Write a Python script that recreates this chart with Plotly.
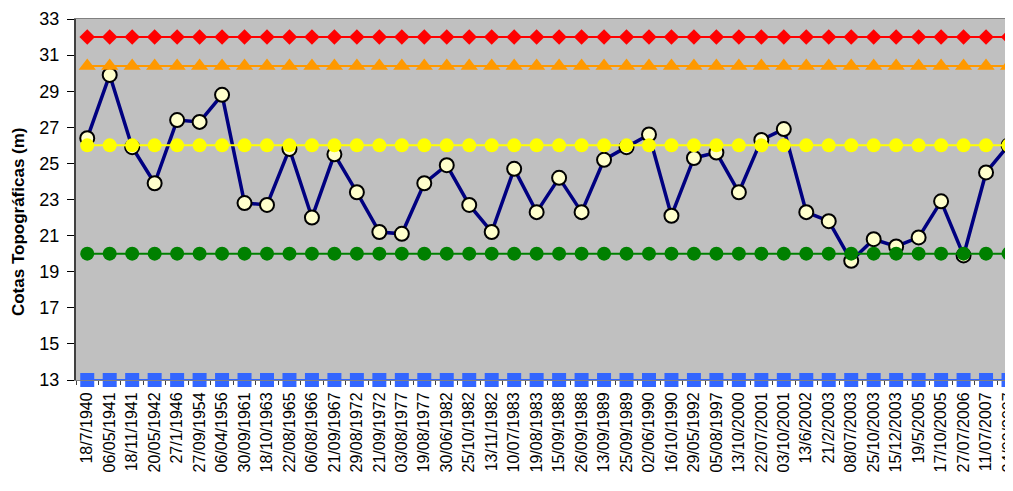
import plotly.graph_objects as go

categories = ["18/7/1940", "06/05/1941", "18/11/1941", "20/05/1942", "27/1/1946", "27/09/1954",
              "06/04/1956", "30/09/1961", "18/10/1963", "22/08/1965", "06/08/1966", "21/09/1967",
              "29/08/1972", "21/09/1972", "03/08/1977", "19/08/1977", "30/06/1982", "25/10/1982",
              "13/11/1982", "10/07/1983", "19/08/1983", "15/09/1988", "26/09/1988", "13/09/1989",
              "25/09/1989", "02/06/1990", "16/10/1990", "29/05/1992", "05/08/1997", "13/10/2000",
              "22/07/2001", "03/10/2001", "13/6/2002", "21/2/2003", "08/07/2003", "25/10/2003",
              "15/12/2003", "19/5/2005", "17/10/2005", "27/07/2006", "11/07/2007", "24/09/2007"]

cotas = [26.4, 29.9, 25.9, 23.9, 27.4, 27.3, 28.8, 22.8, 22.7, 25.8, 22.0, 25.5,
         23.4, 21.2, 21.1, 23.9, 24.9, 22.7, 21.2, 24.7, 22.3, 24.2, 22.3, 25.2,
         25.9, 26.6, 22.1, 25.3, 25.6, 23.4, 26.3, 26.9, 22.3, 21.8, 19.6, 20.8,
         20.4, 20.9, 22.9, 19.9, 24.5, 26.0]

nivel_vermelho = [32.0] * len(categories)
nivel_laranja = [30.4] * len(categories)
nivel_amarelo = [26.0] * len(categories)
nivel_verde = [20.0] * len(categories)
nivel_azul = [13.0] * len(categories)

y_ticks = [13, 15, 17, 19, 21, 23, 25, 27, 29, 31, 33]

fig = go.Figure()

fig.add_trace(go.Scatter(
    x=categories, y=cotas, mode="lines+markers",
    line=dict(color="#000080", width=3.5),
    marker=dict(symbol="circle", size=14, color="#FFFFCC", line=dict(color="black", width=2)),
    cliponaxis=False,
))

refs = [
    (nivel_vermelho, "#FF0000", "diamond", 12),
    (nivel_laranja, "#FF9900", "triangle-up", 15),
    (nivel_amarelo, "#FFFF00", "circle", 14),
    (nivel_verde, "#008000", "circle", 14),
    (nivel_azul, "#3366FF", "square", 14),
]
for vals, col, sym, sz in refs:
    fig.add_trace(go.Scatter(
        x=categories, y=vals, mode="lines+markers",
        line=dict(color=col, width=2),
        marker=dict(symbol=sym, size=sz, color=col, line=dict(width=0)),
        cliponaxis=False,
    ))

fig.update_layout(
    width=1005, height=483,
    margin=dict(l=68, r=0, t=11, b=111),
    paper_bgcolor="white", plot_bgcolor="#C0C0C0",
    showlegend=False,
    font=dict(family="Liberation Sans, Arial, sans-serif", color="black"),
)

fig.update_xaxes(
    type="category", range=[-0.5, 41.2], automargin=False,
    tickangle=-90, tickfont=dict(size=16), ticklabelstandoff=5,
    showgrid=False, zeroline=False,
    showline=True, linecolor="#808080", linewidth=1, mirror=True,
    ticks="outside", tickson="boundaries", ticklen=4, tickcolor="#404040",
)

fig.update_yaxes(
    range=[13, 33], tickvals=y_ticks, tickfont=dict(size=18), automargin=False,
    ticklabelstandoff=4,
    showgrid=False, zeroline=False,
    showline=True, linecolor="#404040", linewidth=2,
    ticks="outside", ticklen=7, tickcolor="black",
)

fig.add_annotation(
    text="<b>Cotas Topográficas (m)</b>", textangle=-90,
    xref="paper", yref="paper", x=-0.062, y=0.44,
    xanchor="center", yanchor="middle", showarrow=False,
    font=dict(size=17, color="black"),
)

fig.write_html("out.html")
